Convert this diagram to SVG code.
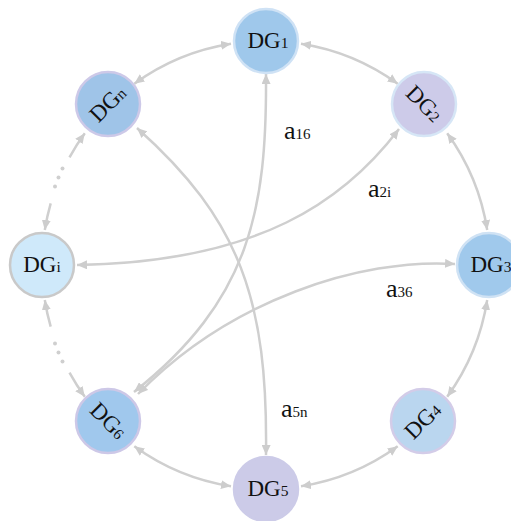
<svg xmlns="http://www.w3.org/2000/svg" width="511" height="521" viewBox="0 0 511 521">
  <style>
    .edge { fill: none; stroke: #cfcfcf; stroke-width: 2.5; }
    .dot { fill: #cfcfcf; }
    .node { stroke-width: 2.5; }
    .lbl { font-family: "Liberation Serif", "Times New Roman", serif; font-size: 23px; fill: #111; text-anchor: middle; }
    .sub { font-size: 15.5px; }
    .wlbl { font-family: "Liberation Serif", "Times New Roman", serif; font-size: 26px; fill: #111; }
    .wsub { font-size: 15px; }
  </style>
  <defs>
    <marker id="arr" viewBox="0 0 10 9" refX="10" refY="4.5" markerWidth="10" markerHeight="9" markerUnits="userSpaceOnUse" orient="auto-start-reverse">
      <path d="M0,0 L10,4.5 L0,9 z" fill="#cdcdcd"/>
    </marker>
  </defs>

  <!-- connectors -->
  <g id="edges">
    <!-- ring between neighbours -->
    <path class="edge" d="M301.0,43.8 A224 224 0 0 1 397.7,83.8" marker-start="url(#arr)" marker-end="url(#arr)"/>
    <path class="edge" d="M447.2,133.3 A224 224 0 0 1 487.2,230.0" marker-start="url(#arr)" marker-end="url(#arr)"/>
    <path class="edge" d="M487.2,300.0 A224 224 0 0 1 447.2,396.7" marker-start="url(#arr)" marker-end="url(#arr)"/>
    <path class="edge" d="M397.7,446.2 A224 224 0 0 1 301.0,486.2" marker-start="url(#arr)" marker-end="url(#arr)"/>
    <path class="edge" d="M231.0,486.2 A224 224 0 0 1 134.3,446.2" marker-start="url(#arr)" marker-end="url(#arr)"/>
    <path class="edge" d="M134.3,83.8 A224 224 0 0 1 231.0,43.8" marker-start="url(#arr)" marker-end="url(#arr)"/>

    <!-- elided ring segments around DGi -->
    <path class="edge" d="M50.7,203.3 A224 224 0 0 0 44.8,230.0" marker-end="url(#arr)"/>
    <path class="edge" d="M69.5,157.4 A224 224 0 0 1 84.8,133.3" marker-end="url(#arr)"/>
    <circle class="dot" cx="55" cy="186.5" r="2"/>
    <circle class="dot" cx="58.5" cy="177.5" r="2"/>
    <circle class="dot" cx="62.5" cy="168.5" r="2"/>

    <path class="edge" d="M50.7,326.7 A224 224 0 0 1 44.8,300.0" marker-end="url(#arr)"/>
    <path class="edge" d="M69.5,372.6 A224 224 0 0 0 84.8,396.7" marker-end="url(#arr)"/>
    <circle class="dot" cx="55" cy="343.5" r="2"/>
    <circle class="dot" cx="58.5" cy="352.5" r="2"/>
    <circle class="dot" cx="62.5" cy="361.5" r="2"/>

    <!-- cross links -->
    <path class="edge" d="M266,74 C267,210 250,300 134,392" marker-start="url(#arr)" marker-end="url(#arr)"/>
    <path class="edge" d="M137,128 C240,220 268,300 266,455" marker-start="url(#arr)" marker-end="url(#arr)"/>
    <path class="edge" d="M399,129 C345,200 260,262 77,265" marker-start="url(#arr)" marker-end="url(#arr)"/>
    <path class="edge" d="M455,264 C360,258 230,300 138,394" marker-start="url(#arr)" marker-end="url(#arr)"/>
  </g>

  <!-- edge weights -->
  <g id="weights">
    <text class="wlbl" x="284" y="139">a<tspan class="wsub">16</tspan></text>
    <text class="wlbl" x="368" y="197">a<tspan class="wsub">2i</tspan></text>
    <text class="wlbl" x="386" y="297">a<tspan class="wsub">36</tspan></text>
    <text class="wlbl" x="281" y="417">a<tspan class="wsub">5n</tspan></text>
  </g>

  <!-- nodes -->
  <g id="DG1">
    <circle class="node" cx="266" cy="41" r="32" fill="#9fc8eb" stroke="#cfe2f5"/>
    <text class="lbl" x="268" y="48">DG<tspan class="sub">1</tspan></text>
  </g>
  <g id="DG2">
    <circle class="node" cx="424" cy="104" r="32" fill="#cdcbe9" stroke="#d6e6f6"/>
    <text class="lbl" x="424" y="111" transform="rotate(45 424 104)">DG<tspan class="sub">2</tspan></text>
  </g>
  <g id="DG3">
    <circle class="node" cx="489" cy="265" r="32" fill="#a0c9ec" stroke="#cfe2f4"/>
    <text class="lbl" x="491" y="272">DG<tspan class="sub">3</tspan></text>
  </g>
  <g id="DG4">
    <circle class="node" cx="423" cy="421" r="32" fill="#bad6ef" stroke="#d3cce8"/>
    <text class="lbl" x="423" y="428" transform="rotate(-45 423 421)">DG<tspan class="sub">4</tspan></text>
  </g>
  <g id="DG5">
    <circle class="node" cx="266" cy="489" r="32" fill="#cccbe8" stroke="#cccbe8"/>
    <text class="lbl" x="268" y="496">DG<tspan class="sub">5</tspan></text>
  </g>
  <g id="DG6">
    <circle class="node" cx="108" cy="421" r="32" fill="#a0c8ed" stroke="#cdc8e7"/>
    <text class="lbl" x="108" y="428" transform="rotate(45 108 421)">DG<tspan class="sub">6</tspan></text>
  </g>
  <g id="DGi">
    <circle class="node" cx="42" cy="265" r="32" fill="#cfe9fa" stroke="#c9c9c9"/>
    <text class="lbl" x="42" y="272">DG<tspan class="sub">i</tspan></text>
  </g>
  <g id="DGn">
    <circle class="node" cx="108" cy="104" r="32" fill="#9fc4e8" stroke="#cdc9e8"/>
    <text class="lbl" x="108" y="111" transform="rotate(-45 108 104)">DG<tspan class="sub">n</tspan></text>
  </g>
</svg>
